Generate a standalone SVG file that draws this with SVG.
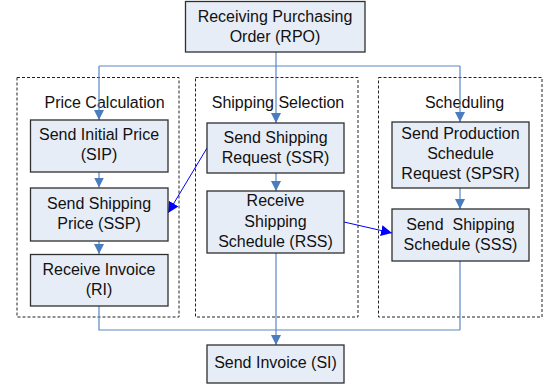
<svg xmlns="http://www.w3.org/2000/svg" width="547" height="385" viewBox="0 0 547 385">
<defs>
<style>
.box{fill:#E7EDF7;stroke:#2F2F2F;stroke-width:1.3}
.grp{fill:none;stroke:#222;stroke-width:1;stroke-dasharray:3,2}
.t{font-family:"Liberation Sans",Arial,sans-serif;font-size:16px;fill:#111;text-anchor:middle;white-space:pre}
.c{fill:none;stroke:#5A87C6;stroke-width:1.2}
.b{fill:none;stroke:#0000FF;stroke-width:1}
</style>
<marker id="ah" viewBox="0 0 10 10" refX="10" refY="5" markerWidth="10" markerHeight="10" markerUnits="userSpaceOnUse" orient="auto"><path d="M0,0 L10,5 L0,10 z" fill="#4A7CC0"/></marker>
<marker id="ab" viewBox="0 0 10 10" refX="10" refY="5" markerWidth="11" markerHeight="11" markerUnits="userSpaceOnUse" orient="auto"><path d="M0,0 L10,5 L0,10 z" fill="#0000FF"/></marker>
</defs>
<g id="group-price">
<rect class="grp" x="17" y="77.5" width="162" height="239.5"/>
<text class="t" x="104.5" y="108">Price Calculation</text>
</g>
<g id="group-shipping">
<rect class="grp" x="195.5" y="77.5" width="162.5" height="239.5"/>
<text class="t" x="278" y="108">Shipping Selection</text>
</g>
<g id="group-scheduling">
<rect class="grp" x="378.5" y="77.5" width="163.5" height="239.5"/>
<text class="t" x="464.5" y="108">Scheduling</text>
</g>
<g id="connectors">
<path class="c" d="M276,52 V66 M99,66 H460"/>
<path class="c" d="M99,66 V120" marker-end="url(#ah)"/>
<path class="c" d="M276,66 V123" marker-end="url(#ah)"/>
<path class="c" d="M460,66 V122" marker-end="url(#ah)"/>
<path class="c" d="M99,172 V187.5" marker-end="url(#ah)"/>
<path class="c" d="M99,241 V254" marker-end="url(#ah)"/>
<path class="c" d="M276,173 V191" marker-end="url(#ah)"/>
<path class="c" d="M460,188 V209" marker-end="url(#ah)"/>
<path class="c" d="M99,306 V330 H460 M460,261 V330"/>
<path class="c" d="M276,253 V345" marker-end="url(#ah)"/>
<path class="b" d="M207,148 L168,213" marker-end="url(#ab)"/>
<path class="b" d="M344,222 L392,233" marker-end="url(#ab)"/>
</g>
<g id="RPO"><rect class="box" x="185.5" y="1.5" width="179.5" height="50.5"/>
<text class="t" x="275" y="22">Receiving Purchasing</text><text class="t" x="275" y="42">Order (RPO)</text></g>
<g id="SIP"><rect class="box" x="30.5" y="120" width="137.5" height="52"/>
<text class="t" x="99" y="140">Send Initial Price</text><text class="t" x="99" y="160">(SIP)</text></g>
<g id="SSP"><rect class="box" x="30.5" y="188" width="137.5" height="53"/>
<text class="t" x="99" y="209">Send Shipping</text><text class="t" x="99" y="229">Price (SSP)</text></g>
<g id="RI"><rect class="box" x="30.5" y="254.5" width="137.5" height="51.5"/>
<text class="t" x="99" y="275">Receive Invoice</text><text class="t" x="99" y="295">(RI)</text></g>
<g id="SSR"><rect class="box" x="207" y="123" width="137" height="50"/>
<text class="t" x="275.5" y="143">Send Shipping</text><text class="t" x="275.5" y="163">Request (SSR)</text></g>
<g id="RSS"><rect class="box" x="207" y="191" width="137" height="62"/>
<text class="t" x="275.5" y="206">Receive</text><text class="t" x="275.5" y="226.5">Shipping</text><text class="t" x="275.5" y="247">Schedule (RSS)</text></g>
<g id="SPSR"><rect class="box" x="392" y="122" width="137" height="66"/>
<text class="t" x="460.5" y="139">Send Production</text><text class="t" x="460.5" y="159">Schedule</text><text class="t" x="460.5" y="179">Request (SPSR)</text></g>
<g id="SSS"><rect class="box" x="392" y="209" width="137" height="52"/>
<text class="t" x="460.5" y="230">Send  Shipping</text><text class="t" x="460.5" y="250">Schedule (SSS)</text></g>
<g id="SI"><rect class="box" x="207" y="345" width="137" height="38"/>
<text class="t" x="275.5" y="368">Send Invoice (SI)</text></g>
</svg>
